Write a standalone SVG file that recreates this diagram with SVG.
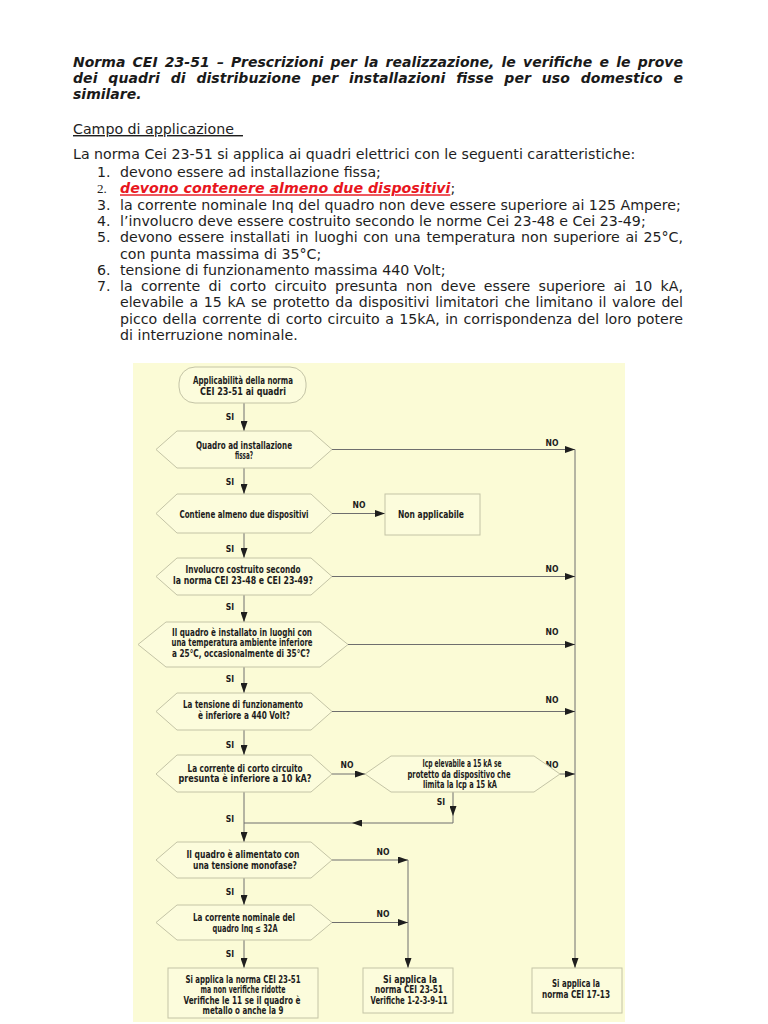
<svg xmlns="http://www.w3.org/2000/svg" width="768" height="1024" viewBox="0 0 768 1024">
<defs>
<marker id="ah" markerUnits="userSpaceOnUse" markerWidth="10" markerHeight="7" refX="10" refY="3.5" orient="auto">
<path d="M0,0 L10,3.5 L0,7 z" fill="#1e1e1e"/>
</marker>
<style>
.body{font-family:"DejaVu Sans",Verdana,sans-serif;font-size:14.2px;fill:#1e1e1e}
.title{font-family:"DejaVu Sans",Verdana,sans-serif;font-size:14px;font-weight:bold;font-style:italic;fill:#1a1a1a}
.fc{font-family:"Liberation Sans Narrow","DejaVu Sans Condensed","Liberation Sans",sans-serif;font-size:10px;font-weight:bold;fill:#1c1c1c;text-anchor:middle}
.lbl{font-family:"Liberation Sans Narrow","DejaVu Sans Condensed","Liberation Sans",sans-serif;font-size:8.5px;font-weight:bold;fill:#1c1c1c;text-anchor:middle}
.shape{fill:#fcfcdc;stroke:#c4c4a6;stroke-width:1}
.conn{fill:none;stroke:#6e6e6e;stroke-width:1}
.arr{marker-end:url(#ah)}
</style>
</defs>
<rect width="768" height="1024" fill="#ffffff"/>

<g id="header">
<text class="title" x="73" y="67" word-spacing="2.3" textLength="610" lengthAdjust="spacing">Norma CEI 23-51 – Prescrizioni per la realizzazione, le verifiche e le prove</text>
<text class="title" x="73" y="83" word-spacing="5.9" textLength="610" lengthAdjust="spacing">dei quadri di distribuzione per installazioni fisse per uso domestico e</text>
<text class="title" x="73" y="99">similare.</text>
<text class="body" x="73" y="134" text-decoration="underline" style="white-space:pre">Campo di applicazione  </text>
<text class="body" x="73" y="159">La norma Cei 23-51 si applica ai quadri elettrici con le seguenti caratteristiche:</text>
<text class="body" x="97" y="177">1.</text>
<text class="body" x="120" y="177">devono essere ad installazione fissa;</text>
<text class="body" x="97" y="193.3" style="font-family:'Liberation Serif',serif;font-size:13px">2.</text>
<text class="body" x="120" y="193.3"><tspan fill="#e8161e" font-weight="bold" font-style="italic" text-decoration="underline">devono contenere almeno due dispositivi</tspan>;</text>
<text class="body" x="97" y="209.6">3.</text>
<text class="body" x="120" y="209.6">la corrente nominale Inq del quadro non deve essere superiore ai 125 Ampere;</text>
<text class="body" x="97" y="225.9">4.</text>
<text class="body" x="120" y="225.9">l’involucro deve essere costruito secondo le norme Cei 23-48 e Cei 23-49;</text>
<text class="body" x="97" y="242.2">5.</text>
<text class="body" x="120" y="242.2" word-spacing="1.2" textLength="563" lengthAdjust="spacing">devono essere installati in luoghi con una temperatura non superiore ai 25°C,</text>
<text class="body" x="120" y="258.5">con punta massima di 35°C;</text>
<text class="body" x="97" y="274.8">6.</text>
<text class="body" x="120" y="274.8">tensione di funzionamento massima 440 Volt;</text>
<text class="body" x="97" y="291.1">7.</text>
<text class="body" x="120" y="291.1" word-spacing="3.8" textLength="563" lengthAdjust="spacing">la corrente di corto circuito presunta non deve essere superiore ai 10 kA,</text>
<text class="body" x="120" y="307.4" word-spacing="1.2" textLength="563" lengthAdjust="spacing">elevabile a 15 kA se protetto da dispositivi limitatori che limitano il valore del</text>
<text class="body" x="120" y="323.7" word-spacing="1" textLength="563" lengthAdjust="spacing">picco della corrente di corto circuito a 15kA, in corrispondenza del loro potere</text>
<text class="body" x="120" y="340">di interruzione nominale.</text>
</g>

<rect id="chart-bg" x="133" y="363" width="492" height="659" fill="#fbfbd6"/>

<g id="connectors">
<path class="conn arr" d="M244,403 V431"/>
<path class="conn arr" d="M244,468 V494"/>
<path class="conn arr" d="M332,513.5 H385"/>
<path class="conn arr" d="M332,449.5 H575"/>
<path class="conn arr" d="M575,449.5 V968"/>
<path class="conn arr" d="M244,533 V558"/>
<path class="conn arr" d="M332,576.5 H575"/>
<path class="conn arr" d="M244,595 V622"/>
<path class="conn arr" d="M348,644.5 H575"/>
<path class="conn arr" d="M244,667 V693"/>
<path class="conn arr" d="M332,711.5 H575"/>
<path class="conn arr" d="M244,730 V755"/>
<path class="conn arr" d="M332,774 H365"/>
<path class="conn arr" d="M560,774 H575"/>
<path class="conn arr" d="M453,792 V816"/>
<path class="conn arr" d="M453,816 V823 H352"/>
<path class="conn" d="M352,823 H244"/>
<path class="conn arr" d="M244,792 V842"/>
<path class="conn arr" d="M332,860 H408"/>
<path class="conn arr" d="M408,860 V968"/>
<path class="conn arr" d="M244,878 V905"/>
<path class="conn arr" d="M332,922.5 H408"/>
<path class="conn arr" d="M244,940 V968"/>
<text class="lbl" x="230" y="420">SI</text>
<text class="lbl" x="230" y="485">SI</text>
<text class="lbl" x="552" y="446">NO</text>
<text class="lbl" x="359" y="508">NO</text>
<text class="lbl" x="230" y="552">SI</text>
<text class="lbl" x="552" y="572">NO</text>
<text class="lbl" x="230" y="610">SI</text>
<text class="lbl" x="552" y="635">NO</text>
<text class="lbl" x="230" y="682">SI</text>
<text class="lbl" x="552" y="703">NO</text>
<text class="lbl" x="230" y="748">SI</text>
<text class="lbl" x="347" y="768">NO</text>
<text class="lbl" x="552" y="768">NO</text>
<text class="lbl" x="441" y="805">SI</text>
<text class="lbl" x="230" y="822">SI</text>
<text class="lbl" x="383" y="855">NO</text>
<text class="lbl" x="230" y="895">SI</text>
<text class="lbl" x="383" y="917">NO</text>
<text class="lbl" x="230" y="957">SI</text>
</g>

<g id="start">
<rect class="shape" x="179" y="367" width="127" height="36" rx="16"/>
<text class="fc" x="243" y="384" textLength="100" lengthAdjust="spacingAndGlyphs">Applicabilità della norma</text>
<text class="fc" x="243" y="394.5" textLength="86" lengthAdjust="spacingAndGlyphs">CEI 23-51 ai quadri</text>
</g>

<g id="q-fissa">
<polygon class="shape" points="156,449.5 177,431 311,431 332,449.5 311,468 177,468"/>
<text class="fc" x="244" y="449" textLength="96" lengthAdjust="spacingAndGlyphs">Quadro ad installazione</text>
<text class="fc" x="244" y="459" textLength="18" lengthAdjust="spacingAndGlyphs">fissa?</text>
</g>

<g id="q-dispositivi">
<polygon class="shape" points="156,513.5 177,494 311,494 332,513.5 311,533 177,533"/>
<text class="fc" x="244" y="517.5" textLength="129" lengthAdjust="spacingAndGlyphs">Contiene almeno due dispositivi</text>
</g>

<g id="non-applicabile">
<rect class="shape" x="385" y="494" width="95" height="41"/>
<text class="fc" x="431" y="517.5" textLength="66" lengthAdjust="spacingAndGlyphs">Non applicabile</text>
</g>

<g id="q-involucro">
<polygon class="shape" points="156,576.5 177,558 311,558 332,576.5 311,595 177,595"/>
<text class="fc" x="243" y="573" textLength="115" lengthAdjust="spacingAndGlyphs">Involucro costruito secondo</text>
<text class="fc" x="243" y="583.5" textLength="140" lengthAdjust="spacingAndGlyphs">la norma CEI 23-48 e CEI 23-49?</text>
</g>

<g id="q-temperatura">
<polygon class="shape" points="138,644.5 166,622 320,622 348,644.5 320,667 166,667"/>
<text class="fc" x="242" y="635.5" textLength="140" lengthAdjust="spacingAndGlyphs">Il quadro è installato in luoghi con</text>
<text class="fc" x="242" y="646" textLength="141" lengthAdjust="spacingAndGlyphs">una temperatura ambiente inferiore</text>
<text class="fc" x="241" y="656.5" textLength="138" lengthAdjust="spacingAndGlyphs">a 25°C, occasionalmente di 35°C?</text>
</g>

<g id="q-tensione">
<polygon class="shape" points="156,711.5 177,693 311,693 332,711.5 311,730 177,730"/>
<text class="fc" x="243" y="708" textLength="120" lengthAdjust="spacingAndGlyphs">La tensione di funzionamento</text>
<text class="fc" x="244" y="718.5" textLength="92" lengthAdjust="spacingAndGlyphs">è inferiore a 440 Volt?</text>
</g>

<g id="q-corto">
<polygon class="shape" points="156,774 177,755 311,755 332,774 311,792 177,792"/>
<text class="fc" x="245" y="771.5" textLength="115" lengthAdjust="spacingAndGlyphs">La corrente di corto circuito</text>
<text class="fc" x="245" y="782" textLength="133" lengthAdjust="spacingAndGlyphs">presunta è inferiore a 10 kA?</text>
</g>

<g id="q-icp">
<polygon class="shape" points="365,774 391,756 534,756 560,774 534,792 391,792"/>
<text class="fc" x="462" y="767" textLength="79" lengthAdjust="spacingAndGlyphs">Icp elevabile a 15 kA se</text>
<text class="fc" x="459" y="777.5" textLength="103" lengthAdjust="spacingAndGlyphs">protetto da dispositivo che</text>
<text class="fc" x="460" y="788" textLength="74" lengthAdjust="spacingAndGlyphs">limita la Icp a 15 kA</text>
</g>

<g id="q-monofase">
<polygon class="shape" points="156,860 177,842 311,842 332,860 311,878 177,878"/>
<text class="fc" x="243" y="858" textLength="113" lengthAdjust="spacingAndGlyphs">Il quadro è alimentato con</text>
<text class="fc" x="245" y="868.5" textLength="104" lengthAdjust="spacingAndGlyphs">una tensione monofase?</text>
</g>

<g id="q-corrente-nominale">
<polygon class="shape" points="156,922.5 177,905 311,905 332,922.5 311,940 177,940"/>
<text class="fc" x="244" y="921" textLength="102" lengthAdjust="spacingAndGlyphs">La corrente nominale del</text>
<text class="fc" x="245" y="932" textLength="65" lengthAdjust="spacingAndGlyphs">quadro Inq ≤ 32A</text>
</g>

<g id="r-ridotte">
<rect class="shape" x="168" y="968" width="150" height="50"/>
<text class="fc" x="243" y="982.5" textLength="115" lengthAdjust="spacingAndGlyphs">Si applica la norma CEI 23-51</text>
<text class="fc" x="243" y="993" textLength="85" lengthAdjust="spacingAndGlyphs">ma non verifiche ridotte</text>
<text class="fc" x="242" y="1003.5" textLength="117" lengthAdjust="spacingAndGlyphs">Verifiche le 11 se il quadro è</text>
<text class="fc" x="243" y="1014" textLength="81" lengthAdjust="spacingAndGlyphs">metallo o anche la 9</text>
</g>

<g id="r-2351">
<rect class="shape" x="363" y="968" width="90" height="45"/>
<text class="fc" x="410" y="982.5" textLength="54" lengthAdjust="spacingAndGlyphs">Si applica la</text>
<text class="fc" x="409" y="993" textLength="68" lengthAdjust="spacingAndGlyphs">norma CEI 23-51</text>
<text class="fc" x="409" y="1003.5" textLength="77" lengthAdjust="spacingAndGlyphs">Verifiche 1-2-3-9-11</text>
</g>

<g id="r-1713">
<rect class="shape" x="532" y="968" width="90" height="45"/>
<text class="fc" x="576" y="987" textLength="48" lengthAdjust="spacingAndGlyphs">Si applica la</text>
<text class="fc" x="576" y="997.5" textLength="68" lengthAdjust="spacingAndGlyphs">norma CEI 17-13</text>
</g>
</svg>
